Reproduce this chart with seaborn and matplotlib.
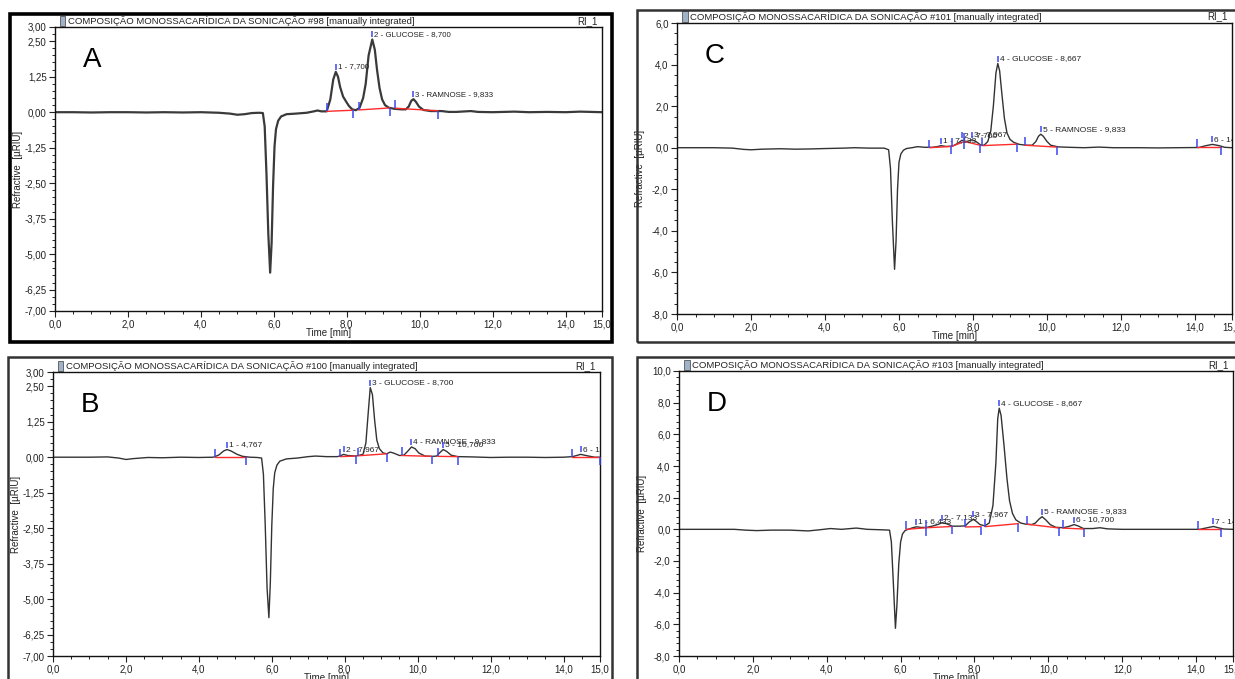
import seaborn as sns
import matplotlib.pyplot as plt
import matplotlib.ticker as mticker
import matplotlib.transforms as mtransforms
from matplotlib.patches import Rectangle

# ---- data ----
# panel A (#98)
a_time = [0.0, 0.5, 1.0, 1.5, 2.0, 2.5, 3.0, 3.5, 4.0, 4.5, 4.8, 5.0, 5.2, 5.4, 5.6, 5.7,
          5.75, 5.8, 5.85, 5.9, 5.94, 5.98, 6.02, 6.06, 6.12, 6.2, 6.35, 6.6, 6.9, 7.1, 7.2, 7.3,
          7.45, 7.55, 7.63, 7.70, 7.76, 7.82, 7.9, 7.98, 8.06, 8.15, 8.25, 8.35, 8.45, 8.52, 8.6,
          8.70, 8.77, 8.83, 8.9, 8.97, 9.05, 9.15, 9.3, 9.5, 9.62, 9.7, 9.77, 9.83, 9.9, 9.98,
          10.1, 10.3, 10.6, 10.8, 11.0, 11.4, 11.6, 12.0, 12.6, 13.0, 13.5, 14.0, 14.4, 15.0]
a_signal = [0.0, 0.0, -0.01, 0.0, 0.0, -0.01, 0.0, -0.01, 0.0, -0.02, -0.05, -0.09, -0.07, -0.03, -0.02, -0.03,
            -0.5, -2.2, -4.3, -5.65, -4.6, -2.6, -1.2, -0.6, -0.3, -0.15, -0.07, -0.05, -0.02, 0.03, 0.06, 0.03,
            0.03, 0.45, 1.15, 1.42, 1.25, 0.88, 0.55, 0.38, 0.22, 0.1, 0.07, 0.15, 0.5, 1.0, 2.0,
            2.56, 2.2, 1.5, 0.85, 0.45, 0.25, 0.16, 0.12, 0.1, 0.1, 0.2, 0.4, 0.46, 0.36, 0.2,
            0.08, 0.04, 0.04, 0.01, 0.01, 0.04, 0.01, 0.0, 0.02, 0.0, 0.01, 0.0, 0.02, 0.0]
a_names = ['1 - 7,700', '2 - GLUCOSE - 8,700', '3 - RAMNOSE - 9,833']
a_rt = [7.70, 8.70, 9.83]
a_apex = [1.42, 2.56, 0.46]
a_start = [7.45, 8.33, 9.33]
a_end = [8.18, 9.18, 10.5]
a_start_base = [0.03, 0.08, 0.14]
a_end_base = [0.07, 0.15, 0.05]

# panel B (#100)
b_time = [0.0, 0.5, 1.0, 1.5, 1.8, 2.0, 2.2, 2.6, 3.0, 3.5, 4.0, 4.4, 4.55, 4.68, 4.77, 4.88, 5.05,
          5.2, 5.4, 5.6, 5.72, 5.77, 5.82, 5.87, 5.92, 5.96, 6.0, 6.04, 6.08, 6.14, 6.22, 6.4, 6.7,
          7.0, 7.2, 7.5, 7.8, 7.9, 7.97, 8.08, 8.3, 8.5, 8.58, 8.64, 8.70, 8.76, 8.82, 8.88, 8.95,
          9.05, 9.15, 9.25, 9.35, 9.5, 9.62, 9.72, 9.83, 9.93, 10.03, 10.2, 10.4, 10.52, 10.6,
          10.70, 10.8, 10.92, 11.1, 11.5, 12.0, 12.5, 13.0, 13.5, 14.0, 14.25, 14.47, 14.65, 14.85, 15.0]
b_signal = [0.0, 0.0, 0.0, 0.01, -0.03, -0.08, -0.05, -0.01, -0.02, 0.0, -0.01, 0.0, 0.08, 0.22, 0.27, 0.22, 0.1,
            0.03, 0.0, -0.01, -0.03, -0.6, -2.4, -4.6, -5.65, -4.4, -2.4, -1.1, -0.55, -0.28, -0.14, -0.06, -0.03,
            0.02, 0.04, 0.02, 0.02, 0.06, 0.1, 0.06, 0.04, 0.1, 0.5, 1.5, 2.45, 2.2, 1.3, 0.6, 0.3,
            0.15, 0.12, 0.18, 0.14, 0.06, 0.07, 0.2, 0.36, 0.3, 0.15, 0.04, 0.03, 0.04, 0.15,
            0.27, 0.2, 0.07, 0.02, 0.01, -0.01, 0.0, 0.0, -0.01, 0.0, 0.02, 0.1, 0.05, 0.0, 0.0]
b_names = ['1 - 4,767', '2 - 7,967', '3 - GLUCOSE - 8,700', '4 - RAMNOSE - 9,833', '5 - 10,700', '6 - 14,467']
b_rt = [4.77, 7.97, 8.70, 9.83, 10.70, 14.47]
b_apex = [0.27, 0.1, 2.45, 0.36, 0.27, 0.1]
b_start = [4.44, 7.87, 8.37, 9.56, 10.55, 14.22]
b_end = [5.29, 8.31, 9.15, 10.38, 11.1, 15.0]
b_start_base = [0.0, 0.02, 0.05, 0.06, 0.03, 0.0]
b_end_base = [0.0, 0.04, 0.12, 0.03, 0.02, 0.0]

# panel C (#101)
c_time = [0.0, 0.5, 1.0, 1.5, 1.8, 2.0, 2.3, 2.8, 3.2, 3.6, 4.0, 4.5, 4.8, 5.2, 5.6, 5.72, 5.77,
          5.82, 5.88, 5.92, 5.96, 6.0, 6.05, 6.12, 6.2, 6.35, 6.5, 6.7, 6.9, 7.03, 7.13, 7.28, 7.45,
          7.6, 7.70, 7.8, 7.88, 7.97, 8.08, 8.2, 8.3, 8.4, 8.48, 8.55, 8.62, 8.67, 8.72, 8.78, 8.85,
          8.92, 9.0, 9.1, 9.25, 9.45, 9.6, 9.7, 9.77, 9.83, 9.9, 10.0, 10.1, 10.3, 10.6, 11.0, 11.4,
          11.8, 12.5, 13.0, 13.5, 14.1, 14.3, 14.47, 14.65, 14.8, 15.0]
c_signal = [0.0, 0.0, 0.0, -0.02, -0.08, -0.1, -0.07, -0.05, -0.07, -0.06, -0.04, -0.02, 0.0, -0.02, -0.02, -0.1, -1.0,
            -3.5, -5.85, -4.5, -2.0, -0.7, -0.3, -0.12, -0.04, 0.0, 0.05, 0.02, 0.02, 0.05, 0.1, 0.06, 0.08,
            0.22, 0.36, 0.3, 0.32, 0.38, 0.3, 0.14, 0.12, 0.3, 0.8, 2.0, 3.6, 4.05, 3.7, 2.6, 1.4,
            0.7, 0.4, 0.26, 0.16, 0.12, 0.12, 0.3, 0.55, 0.65, 0.55, 0.3, 0.12, 0.04, 0.02, 0.0, 0.03,
            0.0, 0.0, -0.01, 0.0, 0.01, 0.1, 0.16, 0.1, 0.02, 0.0]
c_names = ['1 - 7,133', '2 - 7,700', '3 - 7,967', '4 - GLUCOSE - 8,667', '5 - RAMNOSE - 9,833', '6 - 14,467']
c_rt = [7.13, 7.70, 7.97, 8.67, 9.83, 14.47]
c_apex = [0.1, 0.36, 0.38, 4.05, 0.65, 0.16]
c_start = [6.82, 7.42, 7.77, 8.24, 9.4, 14.05]
c_end = [7.4, 7.77, 8.19, 9.19, 10.26, 14.69]
c_start_base = [0.0, 0.06, 0.3, 0.1, 0.12, 0.02]
c_end_base = [0.06, 0.3, 0.12, 0.17, 0.03, 0.02]

# panel D (#103)
d_time = [0.0, 0.5, 1.0, 1.5, 1.8, 2.1, 2.5, 3.0, 3.5, 3.8, 4.1, 4.4, 4.8, 5.1, 5.5, 5.7, 5.75,
          5.8, 5.86, 5.9, 5.95, 6.0, 6.05, 6.12, 6.2, 6.33, 6.43, 6.55, 6.7, 6.85, 7.0, 7.13, 7.25,
          7.4, 7.6, 7.75, 7.85, 7.97, 8.05, 8.15, 8.28, 8.4, 8.5, 8.58, 8.63, 8.67, 8.72, 8.8, 8.88,
          8.95, 9.03, 9.12, 9.25, 9.4, 9.55, 9.65, 9.75, 9.83, 9.93, 10.05, 10.2, 10.4, 10.55, 10.70,
          10.82, 10.95, 11.2, 11.4, 11.6, 12.0, 12.5, 13.0, 13.5, 14.1, 14.3, 14.47, 14.6, 14.75, 15.0]
d_signal = [0.0, 0.0, 0.0, 0.0, -0.05, -0.08, -0.05, -0.05, -0.1, -0.03, 0.05, 0.0, 0.08, 0.0, -0.03, -0.05, -0.8,
            -3.2, -6.25, -4.8, -2.2, -0.8, -0.3, -0.08, 0.0, 0.1, 0.16, 0.12, 0.12, 0.2, 0.3, 0.42, 0.35,
            0.2, 0.2, 0.22, 0.45, 0.63, 0.5, 0.3, 0.22, 0.4, 1.5, 4.2, 7.0, 7.65, 7.2, 5.3, 3.2,
            1.8, 1.0, 0.6, 0.4, 0.32, 0.3, 0.4, 0.65, 0.8, 0.6, 0.3, 0.13, 0.1, 0.18, 0.3,
            0.2, 0.05, 0.05, 0.1, 0.03, 0.0, 0.0, 0.0, 0.0, 0.0, 0.1, 0.18, 0.1, 0.02, 0.0]
d_names = ['1 - 6,433', '2 - 7,133', '3 - 7,967', '4 - GLUCOSE - 8,667', '5 - RAMNOSE - 9,833',
           '6 - 10,700', '7 - 14,467']
d_rt = [6.43, 7.13, 7.97, 8.67, 9.83, 10.70, 14.47]
d_apex = [0.16, 0.42, 0.63, 7.65, 0.8, 0.3, 0.18]
d_start = [6.15, 6.7, 7.75, 8.29, 9.41, 10.39, 14.05]
d_end = [6.7, 7.39, 8.18, 9.19, 10.3, 10.96, 14.67]
d_start_base = [0.0, 0.1, 0.15, 0.17, 0.33, 0.08, 0.0]
d_end_base = [0.1, 0.18, 0.17, 0.36, 0.08, 0.02, 0.0]

x_ticks = [0, 2, 4, 6, 8, 10, 12, 14, 15]
ab_yticks = [3.0, 2.5, 1.25, 0.0, -1.25, -2.5, -3.75, -5.0, -6.25, -7.0]
c_yticks = [6, 4, 2, 0, -2, -4, -6, -8]
d_yticks = [10, 8, 6, 4, 2, 0, -2, -4, -6, -8]

sns.set_style('white')
plt.rcParams['font.family'] = ['Liberation Sans', 'DejaVu Sans']

W, H = 1235, 679
fig = plt.figure(figsize=(W / 100, H / 100), dpi=100)


def px_axes(x0, y0, x1, y1):
    # pixel box (top-left origin) -> figure fraction
    return fig.add_axes([x0 / W, 1 - y1 / H, (x1 - x0) / W, (y1 - y0) / H])


def frame(x0, y0, x1, y1, lw, color):
    fig.add_artist(Rectangle((x0 / W, 1 - y1 / H), (x1 - x0) / W, (y1 - y0) / H,
                             transform=fig.transFigure, fill=False, lw=lw, edgecolor=color))


def comma(v, nd):
    return f'{v:.{nd}f}'.replace('.', ',')


def panel(ax, t, s, names, rt, apex, st, en, sb, eb, ylim, yticks, ynd, yminor,
          letter, run, lw, col, lab_fs):
    sns.lineplot(x=t, y=s, ax=ax, color=col, lw=lw, sort=False, estimator=None)
    # integration baselines
    for i in range(len(st)):
        ax.plot([st[i], en[i]], [sb[i], eb[i]], color='#ff2b2b', lw=1.0, zorder=3)
    up = mtransforms.offset_copy(ax.transData, fig=fig, x=0, y=4, units='dots')
    down = mtransforms.offset_copy(ax.transData, fig=fig, x=0, y=-4, units='dots')
    top = mtransforms.offset_copy(ax.transData, fig=fig, x=0, y=5, units='dots')
    ax.plot(st, sb, ls='none', marker='|', ms=5.5, mew=1.1, color='#3c48f0', transform=up, zorder=4)
    ax.plot(en, eb, ls='none', marker='|', ms=5.5, mew=1.1, color='#3c48f0', transform=down, zorder=4)
    ax.plot(rt, apex, ls='none', marker='|', ms=5, mew=1.1, color='#3c48f0', transform=top, zorder=4)
    for name, x, y in zip(names, rt, apex):
        ax.annotate(name, xy=(x, y), xytext=(2, 5), textcoords='offset pixels',
                    fontsize=lab_fs, va='center', ha='left', color='#222222', clip_on=True)

    ax.set_xlim(0, 15)
    ax.set_ylim(*ylim)
    ax.set_xticks(x_ticks)
    ax.set_xticklabels([comma(v, 1) for v in x_ticks])
    ax.set_yticks(yticks)
    ax.set_yticklabels([comma(v, ynd) for v in yticks])
    ax.xaxis.set_minor_locator(mticker.MultipleLocator(0.5))
    ax.yaxis.set_minor_locator(mticker.MultipleLocator(yminor))
    ax.tick_params(which='major', direction='out', length=4, width=0.8, labelsize=7,
                   pad=2, colors='#222222', left=True, bottom=True)
    ax.tick_params(which='minor', direction='out', length=2, width=0.7, left=True, bottom=True,
                   colors='#222222')
    for sp in ax.spines.values():
        sp.set_visible(True)
        sp.set_color('#111111')
        sp.set_linewidth(1.0)
    ax.set_xlabel('Time [min]', fontsize=7, color='#222222')
    ax.set_ylabel('Refractive  [µRIU]', fontsize=7, color='#222222')
    ax.xaxis.set_label_coords(0.5, -0.06)
    ax.yaxis.set_label_coords(-0.058, 0.5)
    ax.text(0.068, 0.885, letter, transform=ax.transAxes, fontsize=20,
            ha='center', va='center', color='black')
    ax.text(0.024, 1.022, 'COMPOSIÇÃO MONOSSACARÍDICA DA SONICAÇÃO ' + run + ' [manually integrated]',
            transform=ax.transAxes, fontsize=6.8, va='center', ha='left', color='#222222')
    ax.text(0.992, 1.022, 'RI_1', transform=ax.transAxes, fontsize=7, va='center',
            ha='right', color='#222222')
    ax.add_patch(Rectangle((0.009, 1.004), 0.01, 0.036, transform=ax.transAxes, clip_on=False,
                           facecolor='#9fb2c8', edgecolor='#555555', lw=0.6))


# outer frames
frame(10, 14, 612, 342, 2.6, 'black')
frame(8, 357, 612, 700, 1.8, '#333333')
frame(637, 10, 1260, 342, 1.8, '#333333')
frame(637, 357, 1260, 700, 1.8, '#333333')

ax_a = px_axes(55, 27, 602, 311)
ax_b = px_axes(53, 372, 600, 656)
ax_c = px_axes(677, 23, 1232, 314)
ax_d = px_axes(679, 371, 1233, 656)

panel(ax_a, a_time, a_signal, a_names, a_rt, a_apex, a_start, a_end, a_start_base, a_end_base,
      (-7, 3), ab_yticks, 2, 0.25, 'A', '#98', 1.6, '#3a3a3a', 5.7)
panel(ax_b, b_time, b_signal, b_names, b_rt, b_apex, b_start, b_end, b_start_base, b_end_base,
      (-7, 3), ab_yticks, 2, 0.25, 'B', '#100', 1.0, '#333333', 6.0)
panel(ax_c, c_time, c_signal, c_names, c_rt, c_apex, c_start, c_end, c_start_base, c_end_base,
      (-8, 6), c_yticks, 1, 0.5, 'C', '#101', 1.0, '#333333', 6.0)
panel(ax_d, d_time, d_signal, d_names, d_rt, d_apex, d_start, d_end, d_start_base, d_end_base,
      (-8, 10), d_yticks, 1, 0.4, 'D', '#103', 1.0, '#333333', 6.0)

fig.savefig('out.png', dpi=100, facecolor='white')
